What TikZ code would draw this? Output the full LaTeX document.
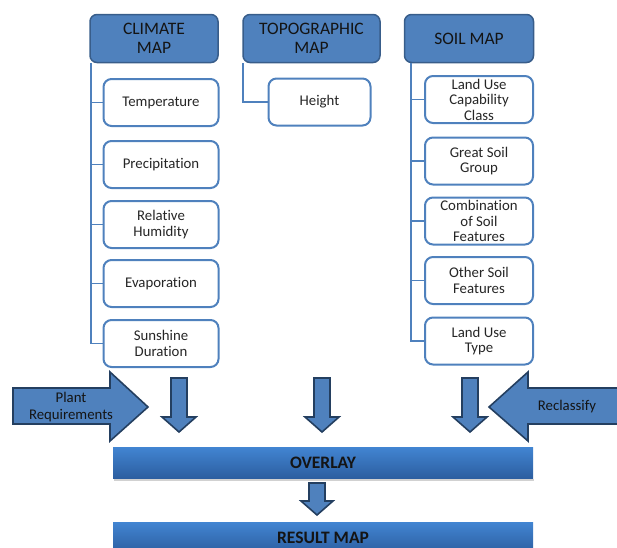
\documentclass[tikz,border=0pt]{standalone}
\usepackage{fontspec}
\setmainfont{Carlito}[Ligatures={NoCommon}]
\definecolor{hdrf}{RGB}{79,129,189}
\definecolor{hdrb}{RGB}{56,93,138}
\definecolor{cb}{RGB}{79,129,189}
\definecolor{arrb}{RGB}{36,63,96}
\definecolor{txt}{RGB}{20,20,20}
\definecolor{ctxt}{RGB}{38,38,38}
\definecolor{bartop}{RGB}{66,133,210}
\definecolor{barbot}{RGB}{44,94,160}
\tikzset{
  hdr/.style={draw=hdrb, fill=hdrf, line width=1.5pt, rounded corners=7pt,
    minimum height=48pt, inner sep=0pt, align=center, text=txt,
    font=\fontsize{17.5}{19}\selectfont},
  child/.style={draw=cb, fill=white, line width=2pt, rounded corners=8pt,
    minimum height=47pt, inner sep=0pt, align=center, text=ctxt,
    font=\fontsize{14.8}{15.5}\selectfont},
  conn/.style={draw=cb, line width=1.6pt},
  blk/.style={draw=arrb, fill=hdrf, line width=1.6pt, line join=miter},
  bar/.style={top color=bartop, bottom color=barbot, draw=none,
    minimum height=31pt, inner sep=0pt, text=txt,
    font=\fontsize{17.5}{19}\bfseries\selectfont},
  lbl/.style={align=center, text=txt, inner sep=0pt,
    font=\fontsize{14.8}{16.5}\selectfont},
  darrow/.pic={\draw[blk] (-8,0) -- (8,0) -- (8,39) -- (17,39) -- (0,54)
    -- (-17,39) -- (-8,39) -- cycle;}
}
\begin{document}
\begin{tikzpicture}[x=1pt,y=-1pt]
\useasboundingbox (0,0) rectangle (617,547);

% headers
\node[hdr, minimum width=128pt] (clim) at (154,38.5) {CLIMATE\\MAP};
\node[hdr, minimum width=137pt] (topo) at (311.5,38.5) {TOPOGRAPHIC\\MAP};
\node[hdr, minimum width=129pt] (soil) at (469,38.5) {SOIL MAP};

% climate children
\node[child, minimum width=115pt] (c1) at (161,102.5) {Temperature};
\node[child, minimum width=115pt] (c2) at (161,164.5) {Precipitation};
\node[child, minimum width=115pt] (c3) at (161,224.5) {Relative\\Humidity};
\node[child, minimum width=115pt] (c4) at (161,283.5) {Evaporation};
\node[child, minimum width=115pt] (c5) at (161,343.5) {Sunshine\\Duration};

% topographic child
\node[child, minimum width=102pt] (t1) at (319.5,102) {Height};

% soil children
\node[child, minimum width=108pt] (s1) at (479,99.5) {Land Use\\Capability\\Class};
\node[child, minimum width=108pt] (s2) at (479,161) {Great Soil\\Group};
\node[child, minimum width=108pt] (s3) at (479,221) {Combination\\of Soil\\Features};
\node[child, minimum width=108pt] (s4) at (479,280.5) {Other Soil\\Features};
\node[child, minimum width=108pt] (s5) at (479,341) {Land Use\\Type};

% connectors
\coordinate (cl) at ([xshift=1.5pt]clim.south west);
\coordinate (tl) at ([xshift=0.5pt]topo.south west);
\coordinate (sl) at ([xshift=7pt]soil.south west);
\draw[conn] (cl) |- (c5.west);
\foreach \i in {1,...,4} { \draw[conn] (c\i.west) -- (c\i.west -| cl); }
\draw[conn] (tl) |- (t1.west);
\draw[conn] (sl) |- (s5.west);
\foreach \i in {1,...,4} { \draw[conn] (s\i.west) -- (s\i.west -| sl); }

% down arrows
\pic at (179,378) {darrow};
\pic at (322,378) {darrow};
\pic at (470,378) {darrow};

% side arrows
\draw[blk] (13,388) -- (110,388) -- (110,372) -- (148,407) -- (110,441)
  -- (110,424) -- (13,424) -- cycle;
\node[lbl] (plant) at (71,407) {Plant\\Requirements};
\draw[blk] (630,388) -- (528,388) -- (528,372) -- (489,407) -- (528,441)
  -- (528,424) -- (630,424) -- cycle;
\node[lbl] (recl) at (567,407) {Reclassify};

% overlay bar
\fill[black!18] (114,479) rectangle (534,480.5);
\node[bar, minimum width=420pt] (ovl) at (323,462.5) {OVERLAY};
\draw[blk] (309,483) -- (325,483) -- (325,501) -- (333,501) -- (317,515)
  -- (301,501) -- (309,501) -- cycle;
\node[bar, minimum width=420pt] (res) at (323,537.5) {RESULT MAP};
\end{tikzpicture}
\end{document}
